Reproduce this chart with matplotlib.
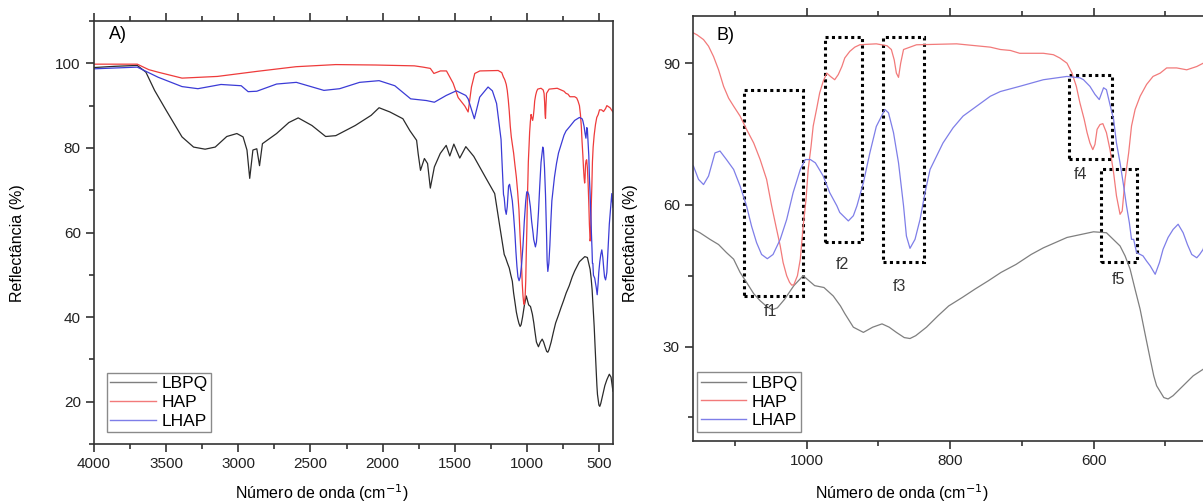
import matplotlib
matplotlib.use('Agg')
import matplotlib.pyplot as plt
from matplotlib.ticker import MultipleLocator
from matplotlib.lines import Line2D
from matplotlib.patches import Rectangle

plt.rcParams['font.family'] = ['Liberation Sans', 'DejaVu Sans']

# spectra: wavenumber (cm-1) and reflectance (%)
lbpq_wn = [4000, 3850, 3700, 3640, 3580, 3500, 3390, 3310, 3230, 3160, 3080, 3010, 2967, 2940,
           2921, 2899, 2872, 2853, 2833, 2735, 2650, 2585, 2490, 2395, 2325, 2190, 2080, 2025,
           1950, 1860, 1812, 1765, 1754, 1738, 1711, 1689, 1670, 1642, 1601, 1560, 1535, 1507,
           1466, 1424, 1369, 1287, 1224, 1189, 1158, 1149, 1135, 1123, 1112, 1102, 1093, 1084,
           1074, 1065, 1056, 1048, 1041, 1031, 1018, 1005, 989, 976, 963, 953, 947, 935, 921,
           908, 895, 885, 875, 864, 856, 848, 833, 817, 802, 783, 765, 747, 729, 708, 687, 670,
           637, 600, 582, 563, 556, 549, 542, 535, 528, 521, 516, 512, 502, 496, 489, 475, 461,
           447, 430, 418, 405]
lbpq_r = [99.0, 99.3, 99.5, 97.9, 93.6, 88.9, 82.6, 80.2, 79.7, 80.2, 82.7, 83.4, 82.6, 79.5,
          72.8, 79.5, 79.8, 75.8, 81.0, 83.4, 86.0, 87.1, 85.3, 82.7, 82.9, 85.3, 87.7, 89.5,
          88.5, 86.9, 84.1, 81.8, 78.6, 74.7, 77.5, 76.3, 70.5, 75.5, 78.7, 80.6, 78.1, 80.9,
          77.6, 80.3, 78.0, 73.0, 69.2, 61.5, 54.8, 54.1, 52.7, 51.6, 49.9, 48.5, 45.7, 43.6,
          41.2, 39.7, 38.5, 37.8, 38.2, 40.0, 42.9, 45.0, 42.9, 42.5, 40.7, 38.6, 37.0, 34.1, 33.0,
          34.1, 34.8, 34.1, 33.0, 31.9, 31.7, 32.3, 34.1, 36.5, 38.6, 40.4, 42.2, 43.9, 45.7, 47.4,
          49.5, 50.9, 53.1, 54.3, 54.1, 51.3, 49.2, 46.4, 42.1, 37.9, 32.6, 27.4, 23.8, 21.7,
          19.2, 18.9, 19.6, 21.7, 23.8, 25.2, 26.5, 25.8, 22.5]

hap_wn = [4000, 3700, 3620, 3555, 3390, 3145, 2870, 2600, 2325, 2050, 1780, 1720, 1670, 1645,
          1600, 1558, 1512, 1477, 1431, 1408, 1385, 1362, 1327, 1200, 1175, 1163, 1158, 1153,
          1144, 1137, 1130, 1123, 1116, 1109, 1102, 1093, 1084, 1074, 1065, 1056, 1049, 1043,
          1037, 1033, 1028, 1024, 1021, 1018, 1013, 1009, 1005, 1001, 998, 994, 991, 986, 982,
          977, 972, 967, 961, 956, 951, 947, 940, 933, 926, 916, 903, 888, 882, 878, 875, 872,
          869, 865, 847, 791, 744, 730, 716, 703, 684, 670, 656, 647, 637, 630, 624, 619, 613,
          609, 605, 601, 598, 595, 591, 587, 582, 577, 572, 568, 563, 560, 556, 551, 547, 542,
          535, 526, 517, 507, 498, 484, 470, 456, 447, 425, 405]
hap_r = [99.8, 99.8, 98.5, 97.9, 96.5, 96.9, 98.1, 99.2, 99.7, 99.6, 99.4, 99.1, 98.8, 97.6,
         98.2, 98.2, 95.3, 91.9, 89.9, 88.5, 94.4, 97.6, 98.2, 98.3, 97.8, 96.7, 96.4, 96.0,
         95.0, 93.6, 91.4, 88.6, 85.1, 82.6, 80.9, 78.8, 76.0, 73.1, 69.6, 65.4, 59.8, 55.5,
         51.3, 47.8, 45.0, 43.6, 43.0, 43.1, 45.0, 48.5, 55.5, 61.2, 67.5, 72.4, 76.7, 80.5, 83.7,
         86.2, 87.9, 87.2, 86.5, 87.6, 89.3, 91.1, 92.5, 93.4, 93.9, 94.0, 94.1, 93.7, 92.9, 90.7,
         87.9, 87.0, 90.0, 92.9, 93.9, 94.1, 93.4, 92.9, 92.7, 92.1, 92.1, 92.1, 91.8, 91.1, 90.0,
         87.9, 85.1, 81.6, 78.1, 75.3, 73.1, 71.7, 72.8, 76.0, 77.0, 77.2, 75.3, 71.7, 66.8,
         61.9, 58.0, 58.7, 65.4, 71.0, 76.7, 80.2, 83.0, 85.5, 87.2, 87.9, 89.0, 89.0, 88.6,
         89.3, 90.0, 89.5, 88.5]

lhap_wn = [4000, 3850, 3700, 3555, 3390, 3280, 3120, 2980, 2932, 2872, 2735, 2598, 2407, 2298,
           2160, 2025, 1916, 1806, 1697, 1642, 1560, 1490, 1424, 1408, 1365, 1328, 1270, 1240,
           1211, 1180, 1175, 1163, 1158, 1151, 1144, 1137, 1128, 1121, 1112, 1102, 1093, 1084,
           1077, 1070, 1063, 1055, 1047, 1037, 1028, 1019, 1009, 1002, 995, 988, 977, 968, 958,
           954, 942, 935, 930, 921, 912, 903, 891, 886, 879, 872, 865, 861, 856, 849, 842, 835,
           828, 819, 810, 796, 782, 763, 744, 730, 703, 670, 637, 619, 614, 605, 598, 592, 586,
           582, 577, 572, 568, 563, 558, 554, 550, 547, 544, 540, 531, 526, 521, 514, 508, 503,
           496, 489, 482, 475, 469, 463, 456, 452, 447, 430, 413, 405]
lhap_r = [98.7, 98.9, 99.1, 96.7, 94.5, 94.0, 95.0, 94.7, 93.3, 93.4, 95.1, 95.5, 93.6, 94.0,
          95.5, 95.9, 94.7, 91.6, 91.2, 90.8, 92.4, 93.5, 92.4, 91.6, 86.9, 92.0, 94.4, 93.5,
          90.5, 82.0, 78.0, 69.0, 68.2, 65.4, 64.3, 66.1, 71.0, 71.4, 69.6, 67.5, 64.0, 59.8,
          55.5, 52.0, 49.5, 48.6, 49.5, 52.7, 56.9, 62.6, 67.5, 69.6, 69.6, 68.9, 66.1, 62.6, 59.8,
          58.4, 56.6, 57.7, 59.8, 64.7, 71.0, 76.6, 80.2, 79.5, 75.3, 68.9, 59.8, 53.4, 50.8, 52.7,
          56.9, 62.6, 67.5, 70.3, 73.1, 76.3, 78.8, 80.9, 83.0, 84.0, 85.1, 86.5, 87.2, 86.9, 86.5,
          85.1, 83.4, 82.3, 84.8, 84.4, 81.2, 78.1, 73.1, 68.9, 64.0, 59.8, 56.2, 52.7, 52.7,
          49.9, 49.2, 48.1, 47.1, 45.3, 47.8, 50.6, 53.1, 54.8, 55.9, 54.1, 51.6, 49.5, 48.8,
          49.5, 50.6, 62.0, 69.2, 66.0]

names = ['LBPQ', 'HAP', 'LHAP']
colors_a = ['#2b2b2b', '#ee3b3b', '#3b3bd6']
colors_b = ['#7f7f7f', '#f27a7a', '#7e7ee8']

# marked regions in panel B
box_names = ['f1', 'f2', 'f3', 'f4', 'f5']
box_wn = [(1088, 1005), (975, 923), (894, 837), (634, 574), (589, 539)]
box_r = [(40.7, 84.4), (52.1, 95.5), (47.8, 95.5), (69.8, 87.4), (47.9, 67.6)]
label_wn = [1051, 951, 871, 618, 565]
label_r = [37.5, 47.4, 42.8, 66.4, 44.3]

fig = plt.figure(figsize=(12.03, 5.04), dpi=100)
ax1 = fig.add_axes([0.0781, 0.119, 0.4314, 0.8393])
ax2 = fig.add_axes([0.5761, 0.125, 0.4239, 0.8433])

data = [(lbpq_wn, lbpq_r), (hap_wn, hap_r), (lhap_wn, lhap_r)]
for (wn, r), c in zip(data, colors_a):
    ax1.plot(wn, r, color=c, lw=0.9)
for (wn, r), c in zip(data, colors_b):
    ax2.plot(wn, r, color=c, lw=0.9)

ax1.set_xlim(4000, 405)
ax1.set_ylim(10, 110)
ax1.xaxis.set_major_locator(MultipleLocator(500))
ax1.xaxis.set_minor_locator(MultipleLocator(250))
ax1.yaxis.set_major_locator(MultipleLocator(20))
ax1.yaxis.set_minor_locator(MultipleLocator(10))

ax2.set_xlim(1158.6, 447.3)
ax2.set_ylim(10, 100)
ax2.xaxis.set_major_locator(MultipleLocator(200))
ax2.xaxis.set_minor_locator(MultipleLocator(100))
ax2.yaxis.set_major_locator(MultipleLocator(30))
ax2.yaxis.set_minor_locator(MultipleLocator(15))
ax2.spines['right'].set_visible(False)

for ax in (ax1, ax2):
    ax.tick_params(which='both', direction='out', top=True, labeltop=False, right=False,
                   labelsize=11, width=1.1, colors='#222222')
    ax.tick_params(which='major', length=6)
    ax.tick_params(which='minor', length=3.5)
    for s in ax.spines.values():
        s.set_linewidth(1.2)
        s.set_color('#333333')

handles = [Line2D([], [], color=c, lw=1.0) for c in colors_b]
for ax, anchor in ((ax1, (0.025, 0.028)), (ax2, (0.008, 0.022))):
    leg = ax.legend(handles, names, loc='lower left', bbox_to_anchor=anchor, fontsize=12.5,
                    fancybox=False, framealpha=1, edgecolor='#8a8a8a', handlelength=2.6,
                    handletextpad=0.35, labelspacing=0.2, borderpad=0.2, borderaxespad=0)
    leg.get_frame().set_linewidth(1.0)

ax1.text(0.029, 0.967, 'A)', transform=ax1.transAxes, fontsize=13, va='center', ha='left')
ax2.text(0.046, 0.954, 'B)', transform=ax2.transAxes, fontsize=13, va='center', ha='left')

for (x0, x1), (y0, y1) in zip(box_wn, box_r):
    ax2.add_patch(Rectangle((x0, y0), x1 - x0, y1 - y0, fill=False, ec='black',
                            lw=2.2, ls=(0, (1, 1.1))))
for n, x, y in zip(box_names, label_wn, label_r):
    ax2.text(x, y, n, fontsize=11.5, ha='center', va='center', color='#333333')

fig.text(322 / 1203, 0.022, 'Número de onda (cm$^{-1}$)', fontsize=11.5, ha='center', va='center')
fig.text(902 / 1203, 0.022, 'Número de onda (cm$^{-1}$)', fontsize=11.5, ha='center', va='center')
fig.text(18 / 1203, 1 - 243 / 504, 'Reflectância (%)', fontsize=11.5, rotation=90,
         ha='center', va='center')
fig.text(631 / 1203, 1 - 243 / 504, 'Reflectância (%)', fontsize=11.5, rotation=90,
         ha='center', va='center')

fig.savefig('out.png', dpi=100)
